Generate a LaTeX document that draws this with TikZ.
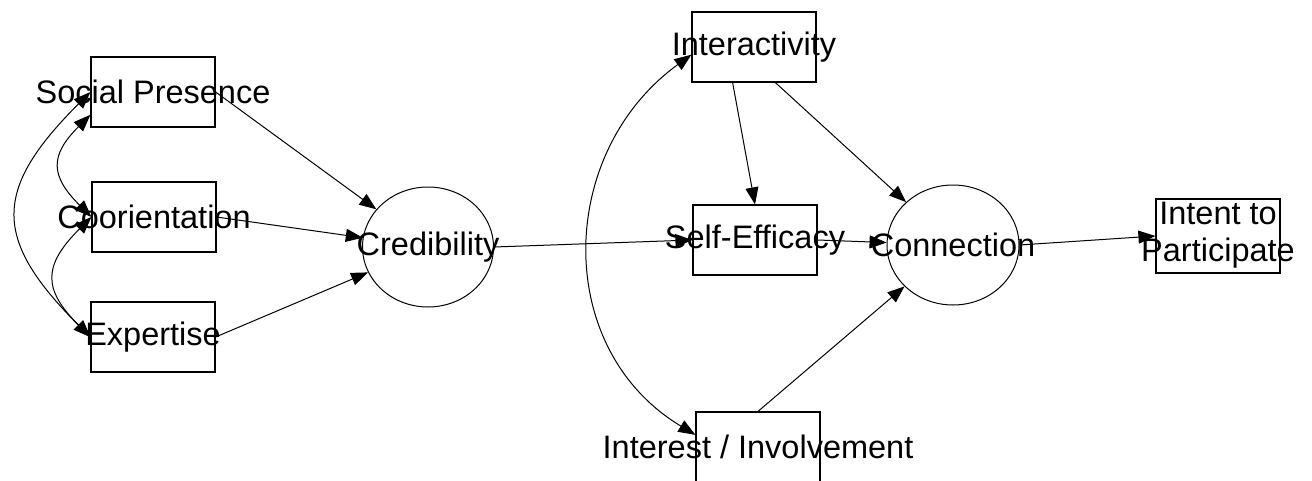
\documentclass[tikz,border=0pt]{standalone}
\usepackage{fontspec}
\setmainfont{Liberation Sans}
\usetikzlibrary{arrows.meta,shapes.geometric}
\newcommand{\BW}{62pt}
\newcommand{\BH}{35pt}
\newcommand{\Lbl}[1]{\makebox[0pt]{#1}}

\begin{document}
\begin{tikzpicture}[x=0.5pt,y=0.5pt,
    txt/.style={font=\fontsize{16.25}{18.5}\selectfont},
    obs/.style={txt, rectangle, draw=black, line width=0.6pt, minimum width=\BW, minimum height=\BH, inner sep=0pt},
    lat/.style={txt, ellipse, draw=black, line width=0.5pt, minimum width=65.5pt, minimum height=60pt, inner sep=0pt},
    reg/.style={-{Triangle[length=8.5pt,width=6.5pt]}, line width=0.5pt},
    cov/.style={{Triangle[length=8.5pt,width=6.5pt]}-{Triangle[length=8.5pt,width=6.5pt]}, line width=0.5pt, looseness=1.45},
  ]
  \useasboundingbox (0,0) rectangle (1312,-481);

  % --- source side: three indicators feeding credibility
  \node[obs] (sp)   at (153,-92)  {\Lbl{Social Presence}};
  \node[obs] (coor) at (154,-217) {\Lbl{Coorientation}};
  \node[obs] (exp)  at (153,-337) {\Lbl{Expertise}};
  \node[lat] (cred) at (428,-247) {\Lbl{Credibility}};

  % --- user side: mediators into connection, then outcome
  \node[obs] (inter)  at (754,-47)   {\Lbl{Interactivity}};
  \node[obs] (self)   at (755,-240)  {\Lbl{Self-Efficacy}};
  \node[obs] (intr)   at (758,-447)  {\Lbl{Interest / Involvement}};
  \node[lat, minimum width=66pt] (conn) at (953,-245) {\Lbl{Connection}};
  \node[obs] (intent) at (1218,-236) {\Lbl{\begin{tabular}{@{}c@{}}Intent to\\Participate\end{tabular}}};

  % --- directed paths
  \draw[reg] (sp.east) -- (cred);
  \draw[reg] (coor.east) -- (cred);
  \draw[reg] (exp.east) -- (cred);
  \draw[reg] (cred.east) -- (self.west);
  \draw[reg] (inter.239) -- (self.north);
  \draw[reg] (inter.301) -- (conn);
  \draw[reg] (self.east) -- (conn);
  \draw[reg] (intr.north) -- (conn);
  \draw[reg] (conn.east) -- (intent.west);

  % --- covariances
  \draw[cov] (sp.200) to[out=225,in=135] (coor.west);
  \draw[cov] (coor.west) to[out=225,in=135] (exp.west);
  \draw[cov] (sp.west) to[out=225,in=135] (exp.west);
  \draw[cov, looseness=1.12] (inter.187) to[out=216,in=149] (intr.169);

\end{tikzpicture}
\end{document}
